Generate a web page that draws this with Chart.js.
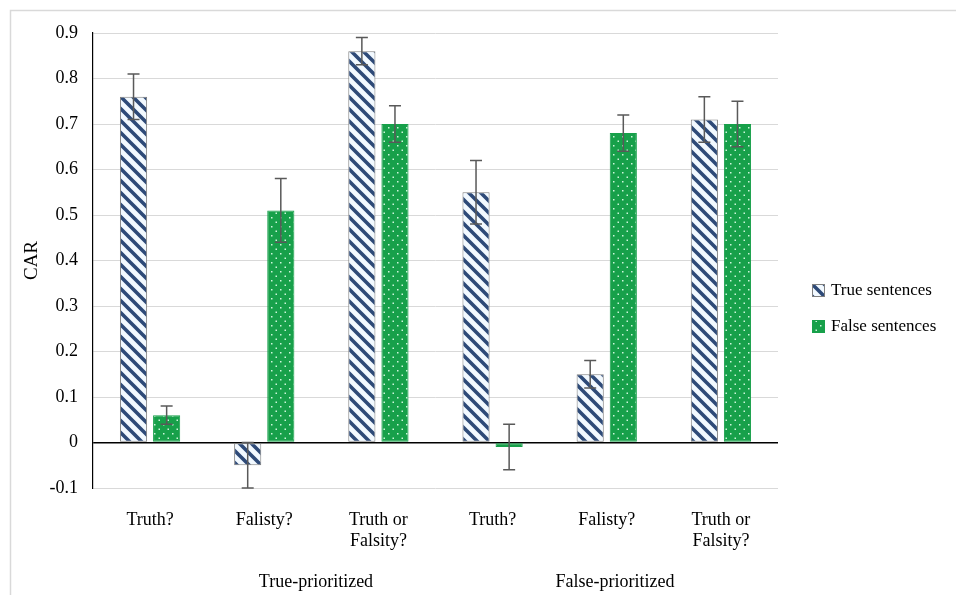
<!DOCTYPE html>
<html lang="en">
<head>
<meta charset="UTF-8">
<title>CAR chart</title>
<script src="https://cdn.jsdelivr.net/npm/chart.js"></script>
<style>
  html, body { margin: 0; padding: 0; background: #fff; }
  #wrap { position: relative; width: 957px; height: 595px; }
</style>
</head>
<body>
<div id="wrap"><canvas id="carChart" width="957" height="595"></canvas></div>
<script>
// data
var categories = [['Truth?'], ['Falisty?'], ['Truth or', 'Falsity?'], ['Truth?'], ['Falisty?'], ['Truth or', 'Falsity?']];
var groupLabels = ['True-prioritized', 'False-prioritized'];
var trueValues = [0.76, -0.05, 0.86, 0.55, 0.15, 0.71];
var trueErrors = [0.05, 0.05, 0.03, 0.07, 0.03, 0.05];
var falseValues = [0.06, 0.51, 0.70, -0.01, 0.68, 0.70];
var falseErrors = [0.02, 0.07, 0.04, 0.05, 0.04, 0.05];
var yTicks = [-0.1, 0, 0.1, 0.2, 0.3, 0.4, 0.5, 0.6, 0.7, 0.8, 0.9];

var serif = "'Liberation Serif', 'Times New Roman', serif";

// stripe pattern for true sentences
function stripePattern() {
    var c = document.createElement('canvas');
    c.width = 12; c.height = 12;
    var g = c.getContext('2d');
    g.fillStyle = '#f2f9ff';
    g.fillRect(0, 0, 12, 12);
    g.strokeStyle = '#2e4a78';
    g.lineWidth = 3.6;
    g.beginPath();
    g.moveTo(-3, -3); g.lineTo(15, 15);
    g.moveTo(-15, -3); g.lineTo(3, 15);
    g.moveTo(9, -3); g.lineTo(27, 15);
    g.stroke();
    return g.createPattern(c, 'repeat');
}

// dotted green pattern for false sentences
function dotPattern() {
    var c = document.createElement('canvas');
    c.width = 9; c.height = 9;
    var g = c.getContext('2d');
    g.fillStyle = '#17a04a';
    g.fillRect(0, 0, 9, 9);
    g.fillStyle = 'rgba(225,255,235,0.9)';
    g.fillRect(1, 1, 1.5, 1.5);
    g.fillRect(5.5, 5.5, 1.5, 1.5);
    return g.createPattern(c, 'repeat');
}

var errorBars = {
    id: 'errorBars',
    afterDatasetsDraw: function(chart) {
        var ctx = chart.ctx;
        var y = chart.scales.y;
        var errs = [trueErrors, falseErrors];
        ctx.save();
        ctx.strokeStyle = '#595959';
        ctx.lineWidth = 1.5;
        chart.data.datasets.forEach(function(ds, di) {
            var meta = chart.getDatasetMeta(di);
            meta.data.forEach(function(bar, i) {
                var v = ds.data[i], e = errs[di][i];
                var top = y.getPixelForValue(v + e);
                var bot = y.getPixelForValue(v - e);
                ctx.beginPath();
                ctx.moveTo(bar.x, top); ctx.lineTo(bar.x, bot);
                ctx.moveTo(bar.x - 6, top); ctx.lineTo(bar.x + 6, top);
                ctx.moveTo(bar.x - 6, bot); ctx.lineTo(bar.x + 6, bot);
                ctx.stroke();
            });
        });
        ctx.restore();
    }
};

var frameAndLabels = {
    id: 'frameAndLabels',
    beforeDraw: function(chart) {
        var ctx = chart.ctx;
        ctx.save();
        ctx.fillStyle = '#fff';
        ctx.fillRect(0, 0, chart.width, chart.height);
        ctx.strokeStyle = '#d9d9d9';
        ctx.lineWidth = 1.5;
        ctx.beginPath();
        ctx.moveTo(10.5, chart.height);
        ctx.lineTo(10.5, 10.5);
        ctx.lineTo(956, 10.5);
        ctx.stroke();
        ctx.restore();
    },
    afterDraw: function(chart) {
        var ctx = chart.ctx;
        var a = chart.chartArea;
        ctx.save();
        // group labels under the category axis
        ctx.fillStyle = '#000';
        ctx.font = '18px ' + serif;
        ctx.textAlign = 'center';
        ctx.textBaseline = 'middle';
        var fr = [0.3255, 0.762];
        groupLabels.forEach(function(t, i) {
            ctx.fillText(t, a.left + (a.right - a.left) * fr[i], 582);
        });
        // legend
        ctx.font = '17px ' + serif;
        ctx.textAlign = 'left';
        chart.data.datasets.forEach(function(ds, i) {
            var cy = 291 + i * 36;
            ctx.fillStyle = ds.backgroundColor;
            ctx.fillRect(812, cy - 7, 13, 13);
            ctx.strokeStyle = ds.borderColor;
            ctx.lineWidth = 1;
            ctx.strokeRect(812.5, cy - 6.5, 12, 12);
            ctx.fillStyle = '#000';
            ctx.fillText(ds.label, 831, cy);
        });
        ctx.restore();
    }
};

var chart = new Chart(document.getElementById('carChart'), {
    type: 'bar',
    data: {
        labels: categories,
        datasets: [{
            label: 'True sentences',
            data: trueValues,
            backgroundColor: stripePattern(),
            borderColor: '#7f7f7f',
            borderWidth: 1,
            borderSkipped: false,
            categoryPercentage: 0.58,
            barPercentage: 0.82
        }, {
            label: 'False sentences',
            data: falseValues,
            backgroundColor: dotPattern(),
            borderColor: '#17a04a',
            borderWidth: 1,
            borderSkipped: false,
            categoryPercentage: 0.58,
            barPercentage: 0.82
        }]
    },
    options: {
        responsive: false,
        animation: false,
        layout: { padding: { top: 33, right: 179, left: 0, bottom: 0 } },
        plugins: {
            legend: { display: false },
            tooltip: { enabled: false }
        },
        scales: {
            x: {
                grid: { display: false },
                border: { display: false },
                ticks: {
                    color: '#000',
                    font: { family: serif, size: 18 },
                    padding: 13,
                    maxRotation: 0,
                    autoSkip: false
                },
                afterFit: function(s) { s.height = 107; }
            },
            y: {
                min: -0.1,
                max: 0.9,
                afterBuildTicks: function(s) {
                    s.ticks = yTicks.map(function(v) { return { value: v }; });
                },
                grid: {
                    color: function(c) { return c.tick && c.tick.value === 0 ? '#000' : '#d9d9d9'; },
                    lineWidth: function(c) { return c.tick && c.tick.value === 0 ? 1.5 : 1; },
                    drawTicks: false
                },
                border: { color: '#000', width: 1.2 },
                ticks: {
                    color: '#000',
                    font: { family: serif, size: 18 },
                    padding: 15,
                    callback: function(v) { return String(Math.round(v * 10) / 10); }
                },
                title: {
                    display: true,
                    text: 'CAR',
                    color: '#000',
                    font: { family: serif, size: 19 },
                    padding: { top: 21, bottom: 0 }
                },
                afterFit: function(s) { s.width = 93; }
            }
        }
    },
    plugins: [errorBars, frameAndLabels]
});
</script>
</body>
</html>
